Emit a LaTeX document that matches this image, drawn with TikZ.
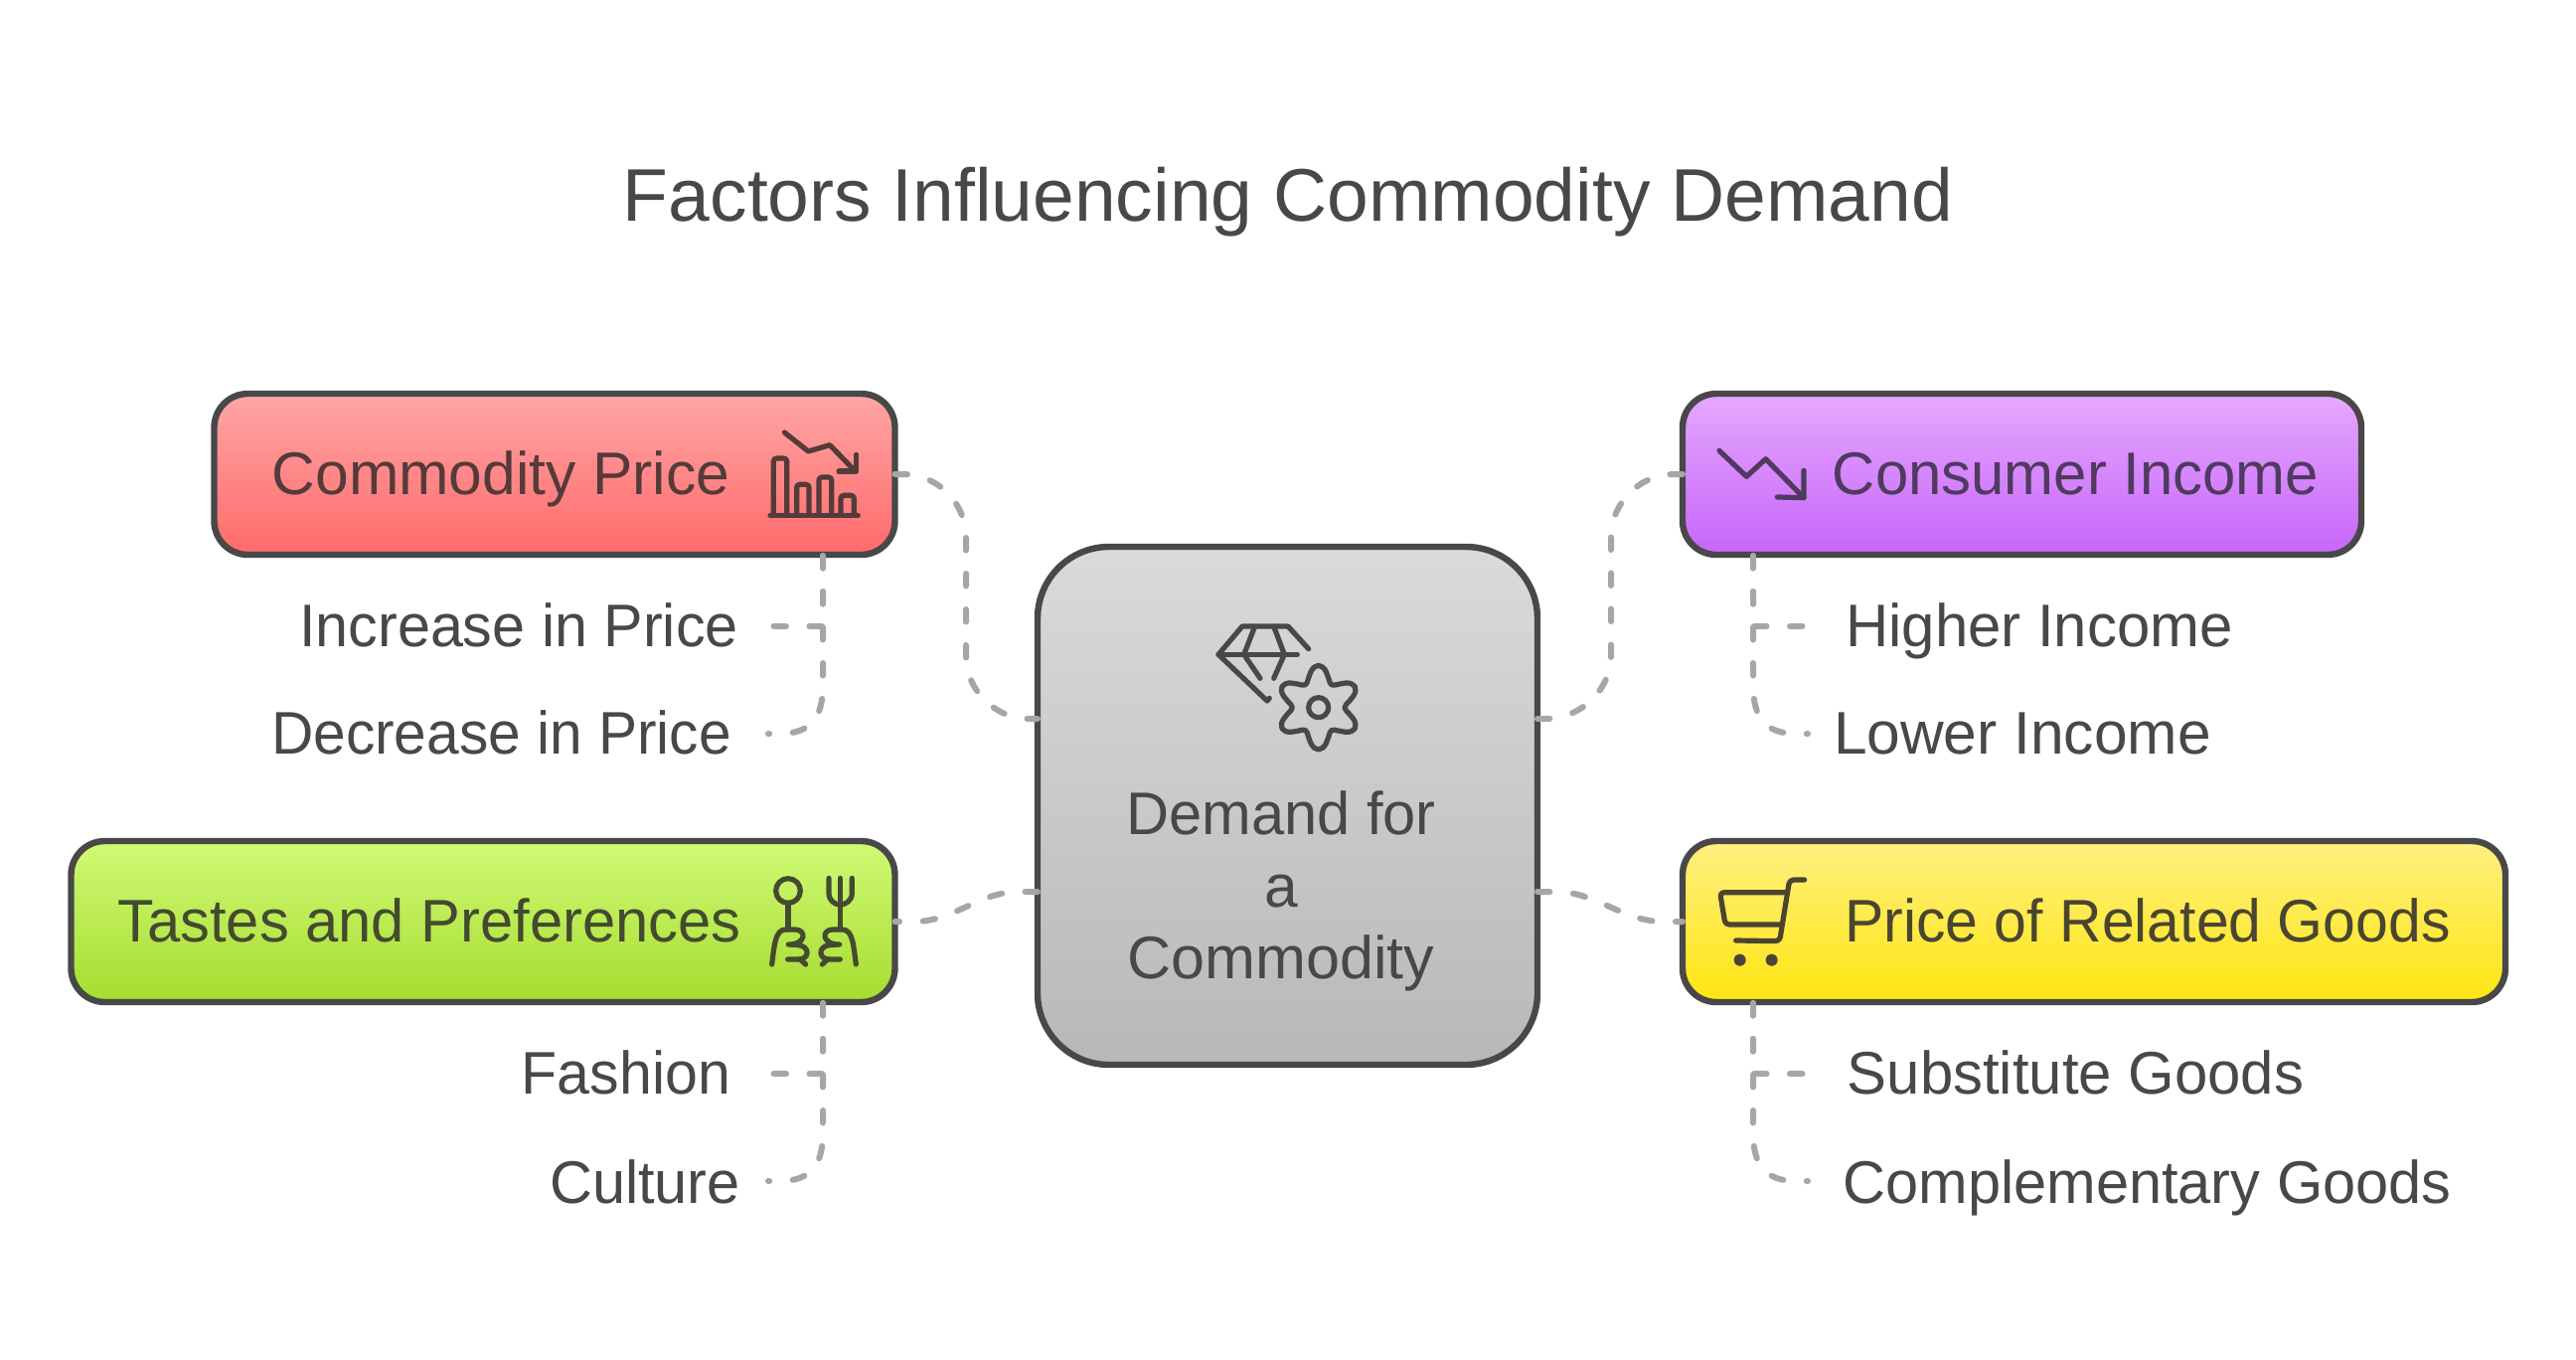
\documentclass[tikz,border=0pt]{standalone}
\usepackage{fontspec}
\setmainfont{Liberation Sans}
\definecolor{ink}{HTML}{484848}
\definecolor{dashc}{HTML}{A6A6A6}
\definecolor{redink}{HTML}{553A3A}
\definecolor{greenink}{HTML}{444A30}
\definecolor{purpleink}{HTML}{4F3A60}
\definecolor{yellowink}{HTML}{4A4530}
\definecolor{redtop}{HTML}{FFA6A6}
\definecolor{redbot}{HTML}{FF6A6A}
\definecolor{greentop}{HTML}{D0FA75}
\definecolor{greenbot}{HTML}{A6DC30}
\definecolor{purpletop}{HTML}{E6A8FF}
\definecolor{purplebot}{HTML}{C766FA}
\definecolor{yellowtop}{HTML}{FFF080}
\definecolor{yellowbot}{HTML}{FFE512}
\definecolor{graytop}{HTML}{DADADA}
\definecolor{graybot}{HTML}{B8B8B8}
\newcommand{\sx}[2]{\scalebox{#1}[1]{#2}}
\tikzset{
  boxnode/.style={draw=ink,line width=6.4pt,rounded corners=34pt,inner sep=0pt,outer sep=0pt},
  conn/.style={draw=dashc,line width=6pt,line cap=round,dash pattern=on 12.5pt off 23.5pt},
  lab/.style={inner sep=0pt,outer sep=0pt,text=ink,anchor=base,font=\fontsize{60.5}{72}\selectfont},
  ttl/.style={inner sep=0pt,outer sep=0pt,text=ink,anchor=base,font=\fontsize{75}{88}\selectfont},
  ico/.style={line width=5.2pt,line cap=round,line join=round},
  zoomed/.style={x=0.33333pt,y=-0.33333pt}
}
\begin{document}
\begin{tikzpicture}[x=1pt,y=-1pt]
\useasboundingbox (0,0) rectangle (2592,1368);
\fill[white] (0,0) rectangle (2592,1368);
\node[ttl] (title) at (1296,222) {Factors Influencing Commodity Demand};
% boxes
\node[boxnode,minimum width=685pt,minimum height=162pt,top color=redtop,bottom color=redbot] (red) at (558,477) {};
\node[boxnode,minimum width=829pt,minimum height=162pt,top color=greentop,bottom color=greenbot] (green) at (486,927) {};
\node[boxnode,minimum width=683pt,minimum height=162pt,top color=purpletop,bottom color=purplebot] (purple) at (2034.5,477) {};
\node[boxnode,minimum width=828pt,minimum height=162pt,top color=yellowtop,bottom color=yellowbot] (yellow) at (2107,927) {};
\node[boxnode,rounded corners=72pt,minimum width=503pt,minimum height=521pt,top color=graytop,bottom color=graybot] (center) at (1295.5,810.5) {};
% box texts
\node[lab,text=redink] (redt) at (504,497) {Commodity Price};
\node[lab,text=greenink] (greent) at (432,947) {\sx{.987}{Tastes and Preferences}};
\node[lab,text=purpleink] (purplet) at (2088.5,497) {\sx{.99}{Consumer Income}};
\node[lab,text=yellowink] (yellowt) at (2161,947) {\sx{.974}{Price of Related Goods}};
\node[lab] (c1) at (1289,839.5) {\sx{.985}{Demand for}};
\node[lab] (c2) at (1289,912) {a};
\node[lab] (c3) at (1289,984) {\sx{1.01}{Commodity}};
% sub labels
\node[lab] (s1) at (522,650.5) {\sx{.98}{Increase in Price}};
\node[lab] (s2) at (504.5,758) {\sx{.969}{Decrease in Price}};
\node[lab] (s3) at (630,1100.5) {\sx{.977}{Fashion}};
\node[lab] (s4) at (649,1210) {\sx{.983}{Culture}};
\node[lab] (s5) at (2052,650.5) {\sx{.99}{Higher Income}};
\node[lab] (s6) at (2035,758) {Lower Income};
\node[lab] (s7) at (2088.5,1100.5) {\sx{.99}{Substitute Goods}};
\node[lab] (s8) at (2160.5,1210) {\sx{.984}{Complementary Goods}};
% connector points
\coordinate (redS) at (828,559);
\coordinate (greenS) at (828,1009);
\coordinate (purpleS) at (1764,559);
\coordinate (yellowS) at (1764,1009);
\coordinate (cL1) at (1044,723);
\coordinate (cL2) at (1044,897);
\coordinate (cR1) at (1547,723);
\coordinate (cR2) at (1547,897);
\coordinate (e1) at (775,630);
\coordinate (e2) at (773,738);
\coordinate (e3) at (775,1080);
\coordinate (e4) at (773,1188);
\coordinate (e5) at (1817,630);
\coordinate (e6) at (1819,738);
\coordinate (e7) at (1817,1080);
\coordinate (e8) at (1819,1188);
% main connectors
\draw[conn] (red.east) -- (908,477) .. controls (943.3,477) and (972,505.7) .. (972,541) -- (972,659) .. controls (972,694.3) and (1000.7,723) .. (1036,723) -- (cL1);
\draw[conn] (purple.west) -- (1685,477) .. controls (1649.7,477) and (1621,505.7) .. (1621,541) -- (1621,659) .. controls (1621,694.3) and (1590.3,723) .. (1555,723) -- (cR1);
\draw[conn] (cL2) -- (1025,897) .. controls (985,897) and (960,927) .. (920,927) -- (green.east);
\draw[conn] (cR2) -- (1566,897) .. controls (1606,897) and (1633,927) .. (1673,927) -- (yellow.west);
% branches
\draw[conn] (redS) |- (e1);
\draw[conn] (redS) -- (828,690) .. controls (828,722) and (815,738) .. (785,738) -- (e2);
\draw[conn] (greenS) |- (e3);
\draw[conn] (greenS) -- (828,1140) .. controls (828,1172) and (815,1188) .. (785,1188) -- (e4);
\draw[conn] (purpleS) |- (e5);
\draw[conn] (purpleS) -- (1764,690) .. controls (1764,722) and (1777,738) .. (1807,738) -- (e6);
\draw[conn] (yellowS) |- (e7);
\draw[conn] (yellowS) -- (1764,1140) .. controls (1764,1172) and (1777,1188) .. (1807,1188) -- (e8);
% red icon
\begin{scope}[shift={(700,380)},zoomed,draw=redink,ico]
\draw (268,165) -- (340,222) -- (405,203) -- (480,280);
\draw (485,232) -- (485,282) -- (432,282);
\draw[rounded corners=3pt] (225,415) -- (490,415);
\draw[rounded corners=3pt] (235,415) -- (235,243) -- (275,243) -- (275,415);
\draw[rounded corners=3pt] (305,415) -- (305,322) -- (342,322) -- (342,415);
\draw[rounded corners=3pt] (372,415) -- (372,300) -- (410,300) -- (410,415);
\draw[rounded corners=3pt] (438,415) -- (438,355) -- (478,355) -- (478,415);
\end{scope}
% green icon
\begin{scope}[shift={(700,820)},zoomed,draw=greenink,ico]
\draw (279,228) circle[radius=37];
\draw (279,265) -- (279,345);
\draw (230,450) .. controls (238,390) and (240,345) .. (272,345) -- (300,345) .. controls (335,345) and (335,390) .. (280,390) -- (310,392) .. controls (345,395) and (345,435) .. (310,435) -- (278,435);
\draw (318,437) -- (332,450);
\draw (484,450) .. controls (476,390) and (474,345) .. (442,345) -- (414,345) .. controls (379,345) and (379,390) .. (434,390) -- (404,392) .. controls (369,395) and (369,435) .. (404,435) -- (436,435);
\draw (396,437) -- (382,450);
\draw (436,190) -- (436,345);
\draw (402,190) -- (402,235) .. controls (402,258) and (420,270) .. (436,270) .. controls (452,270) and (472,258) .. (472,235) -- (472,190);
\end{scope}
% purple icon
\begin{scope}[shift={(1680,380)},zoomed,draw=purpleink,ico]
\draw (150,220) -- (232,298) -- (290,245) -- (405,362);
\draw (405,280) -- (405,362) -- (325,360);
\end{scope}
% yellow icon
\begin{scope}[shift={(1680,820)},zoomed,draw=yellowink,ico]
\draw[rounded corners=4pt] (407,195) -- (362,195) -- (332,380) -- (200,378);
\draw[rounded corners=4pt] (352,233) -- (152,233) -- (168,330) -- (335,330);
\fill[yellowink] (212,437) circle[radius=18];
\fill[yellowink] (308,437) circle[radius=18];
\end{scope}
% centre icon
\begin{scope}[shift={(1200,610)},zoomed,draw=ink,ico]
\draw (350,128) -- (288,60) -- (150,60) -- (78,145) -- (225,285) -- (232,277);
\draw (78,145) -- (316,145);
\draw (188,60) -- (155,145) -- (204,217);
\draw (245,60) -- (277,145) -- (245,217);
\draw (380,305) circle[radius=30];
\draw plot[smooth cycle,tension=.7,domain=0:354,samples=60,variable=\a] ({380+(103-24*cos(6*\a))*cos(\a)},{305+(103-24*cos(6*\a))*sin(\a)});
\end{scope}
\end{tikzpicture}
\end{document}
